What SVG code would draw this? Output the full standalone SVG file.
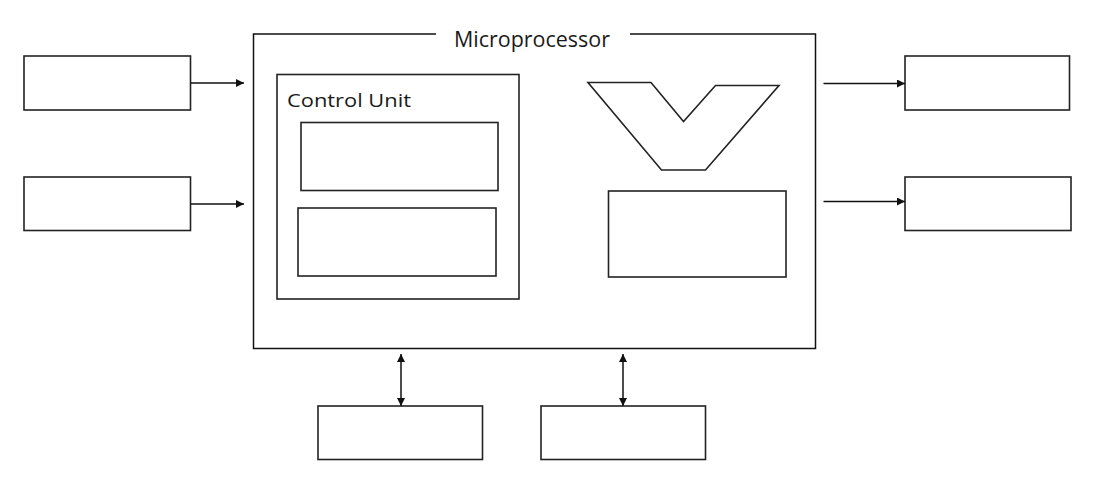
<svg xmlns="http://www.w3.org/2000/svg" width="1101" height="491" viewBox="0 0 1101 491">
<defs>
<style>
.b{fill:#fff;stroke:#222;stroke-width:1.6}
.c{fill:none;stroke:#111;stroke-width:1.5}
.t{font-family:"Open Sans","Liberation Sans",sans-serif;fill:#1a1a1a}
</style>
<marker id="ah" viewBox="0 0 10 10" refX="10" refY="5" markerWidth="10" markerHeight="8" markerUnits="userSpaceOnUse" orient="auto-start-reverse">
<path d="M0,0 L10,5 L0,10 z" fill="#111"/>
</marker>
</defs>
<rect width="1101" height="491" fill="#fff"/>
<g id="microprocessor">
<path class="c" d="M436,34 H253.5 V348.5 H815.5 V34 H630" stroke-width="1.6"/>
<text class="t" x="454" y="46.5" font-size="21" textLength="156" lengthAdjust="spacingAndGlyphs">Microprocessor</text>
</g>
<g id="control-unit">
<rect class="b" x="277" y="74.5" width="242" height="224.5"/>
<text class="t" x="287" y="107" font-size="19" textLength="124" lengthAdjust="spacingAndGlyphs">Control Unit</text>
</g>
<g id="cu-block-1"><rect class="b" x="301" y="122.5" width="197" height="68"/></g>
<g id="cu-block-2"><rect class="b" x="298" y="208" width="198" height="68"/></g>
<g id="alu"><polygon class="b" points="588,82.5 651,82.5 683.5,121.5 715.5,85.5 779,85.5 705.5,170 661.5,170"/></g>
<g id="register"><rect class="b" x="608.5" y="191" width="177.5" height="86"/></g>
<g id="input-1"><rect class="b" x="24" y="56" width="166.5" height="54"/></g>
<g id="input-2"><rect class="b" x="24" y="177" width="166.5" height="53.5"/></g>
<g id="output-1"><rect class="b" x="905" y="56" width="164.5" height="54"/></g>
<g id="output-2"><rect class="b" x="905" y="177" width="166" height="53.5"/></g>
<g id="memory-1"><rect class="b" x="318" y="406" width="164.5" height="53.5"/></g>
<g id="memory-2"><rect class="b" x="541" y="406" width="164.5" height="53.5"/></g>
<g id="connectors">
<line class="c" x1="190.5" y1="83" x2="244" y2="83" marker-end="url(#ah)"/>
<line class="c" x1="190.5" y1="204" x2="244" y2="204" marker-end="url(#ah)"/>
<line class="c" x1="823.5" y1="83.5" x2="905" y2="83.5" marker-end="url(#ah)"/>
<line class="c" x1="823.5" y1="201.5" x2="905" y2="201.5" marker-end="url(#ah)"/>
<line class="c" x1="401" y1="354" x2="401" y2="406" marker-start="url(#ah)" marker-end="url(#ah)"/>
<line class="c" x1="623" y1="354" x2="623" y2="406" marker-start="url(#ah)" marker-end="url(#ah)"/>
</g>
</svg>
